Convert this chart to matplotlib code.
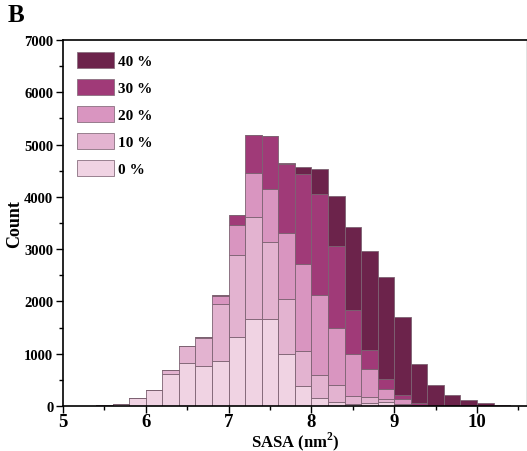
import numpy as np
import matplotlib
matplotlib.use('Agg')
import matplotlib.pyplot as plt
from matplotlib.ticker import MultipleLocator

# Histogram bins (left edges, width 0.2 nm^2)
bin_left = [5.4, 5.6, 5.8, 6.0, 6.2, 6.4, 6.6, 6.8, 7.0, 7.2, 7.4, 7.6, 7.8,
            8.0, 8.2, 8.4, 8.6, 8.8, 9.0, 9.2, 9.4, 9.6, 9.8, 10.0, 10.2]

# counts per series
c0 = [15, 40, 150, 300, 610, 820, 757, 852, 1316, 1672, 1659, 997, 376,
      159, 76, 44, 57, 76, 15, 3, 0, 0, 0, 0, 0]
c10 = [0, 0, 0, 0, 70, 320, 540, 1100, 1570, 1952, 1482, 1049, 673,
       426, 318, 141, 115, 63, 17, 5, 0, 0, 0, 0, 0]
c20 = [0, 0, 0, 0, 10, 0, 20, 160, 572, 839, 1004, 1272, 1665,
       1545, 1093, 812, 528, 191, 107, 15, 3, 0, 0, 0, 0]
c30 = [0, 0, 0, 0, 0, 0, 0, 20, 190, 718, 1010, 1305, 1716,
       1919, 1578, 840, 374, 191, 65, 25, 5, 2, 0, 0, 0]
c40 = [0, 0, 0, 0, 0, 0, 0, 0, 10, 0, 0, 30, 141,
       477, 953, 1596, 1895, 1952, 1507, 759, 387, 202, 108, 50, 15]

series = [c0, c10, c20, c30, c40]
labels = ['0 %', '10 %', '20 %', '30 %', '40 %']
colors = ['#f0d3e3', '#e3b3d0', '#d995c0', '#a03a78', '#6c234b']

plt.rcParams['font.family'] = ['Liberation Serif', 'DejaVu Serif']
plt.rcParams['font.weight'] = 'bold'
plt.rcParams['mathtext.fontset'] = 'custom'
plt.rcParams['mathtext.rm'] = 'Liberation Serif:bold'
plt.rcParams['mathtext.bf'] = 'Liberation Serif:bold'

fig = plt.figure(figsize=(5.27, 4.52), dpi=100)
ax = fig.add_axes([63 / 527, 45 / 452, 463.7 / 527, 366 / 452])

bottom = np.zeros(len(bin_left))
handles = []
for vals, lab, col in zip(series, labels, colors):
    vals = np.array(vals, dtype=float)
    b = ax.bar(bin_left, vals, width=0.2, align='edge', bottom=bottom,
               color=col, edgecolor='#7d6272', linewidth=0.6, label=lab)
    handles.append(b)
    bottom += vals

ax.set_xlim(5, 10.6)
ax.set_ylim(0, 7000)
ax.xaxis.set_major_locator(MultipleLocator(1))
ax.xaxis.set_minor_locator(MultipleLocator(0.5))
ax.yaxis.set_major_locator(MultipleLocator(1000))
ax.yaxis.set_minor_locator(MultipleLocator(500))
ax.tick_params(which='major', direction='out', length=5, width=1, pad=2)
ax.tick_params(which='minor', direction='out', length=3, width=1)
ax.tick_params(axis='y', labelsize=10.5)
ax.tick_params(axis='x', labelsize=13.5, pad=0)
for s in ax.spines.values():
    s.set_linewidth(1.2)
ax.spines['right'].set_color('#dddddd')

ax.set_xlabel('SASA (nm$^2$)', fontsize=12, fontweight='bold', labelpad=0)
ax.set_ylabel('Count', fontsize=13, fontweight='bold', labelpad=1)

leg = ax.legend(handles[::-1], labels[::-1], loc='upper left',
                bbox_to_anchor=(0.03, 0.967), borderpad=0, borderaxespad=0,
                frameon=False, fontsize=11, handlelength=2.4,
                handleheight=1.2, labelspacing=0.72, handletextpad=0.3)
for p in leg.get_patches():
    p.set_edgecolor('#8a7080')

fig.text(8 / 527, 1 - 16 / 452, 'B', fontsize=18, fontweight='bold',
         va='center', ha='left')

fig.savefig('out.png', dpi=100)
